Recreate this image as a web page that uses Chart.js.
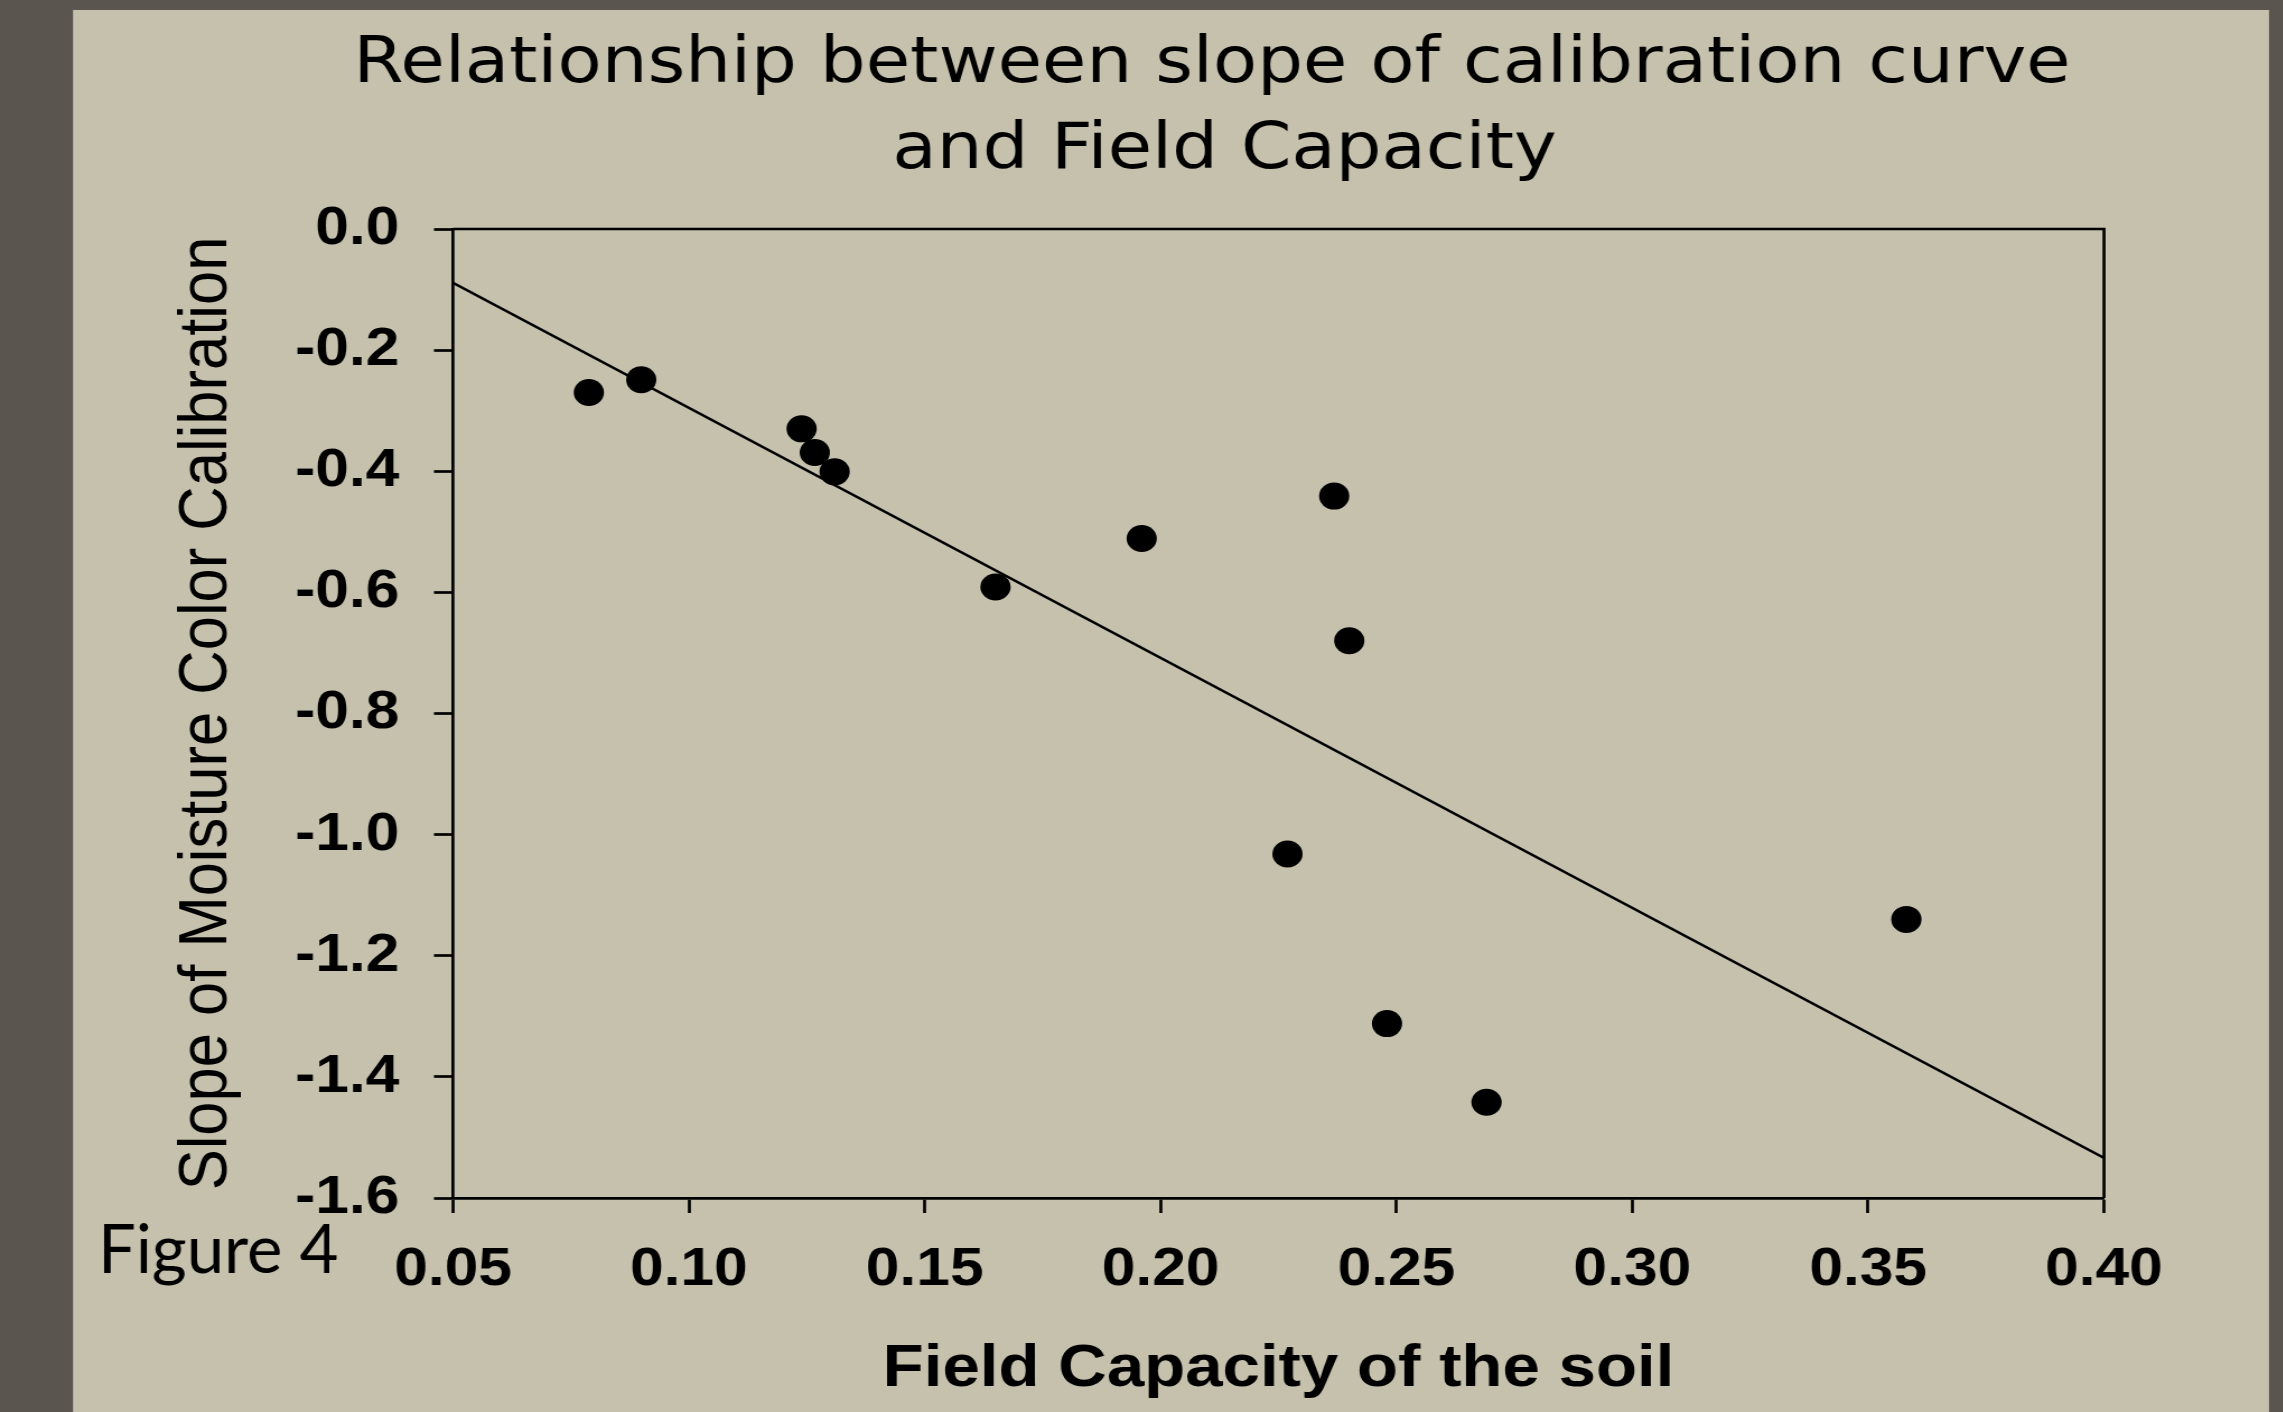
<!DOCTYPE html>
<html><head><meta charset="utf-8">
<script src="https://cdn.jsdelivr.net/npm/chart.js@4.4.1/dist/chart.umd.min.js"></script>
<style>
html,body{margin:0;padding:0;background:#5a554f;overflow:hidden;width:2283px;height:1412px;}
#wrap{position:absolute;left:0;top:0;transform:scaleX(1.12);transform-origin:0 0;}
canvas{display:block;}
</style></head><body>
<div id="wrap"><canvas id="c" width="2039" height="1412"></canvas></div>
<script>
// ---- data ----
const titleLines = ['Relationship between slope of calibration curve', 'and Field Capacity'];
const xAxisTitle = 'Field Capacity of the soil';
const yAxisTitle = 'Slope of Moisture Color Calibration';
const figureLabel = 'Figure 4';
const fieldCapacity    = [0.0788, 0.0899, 0.1239, 0.1267, 0.1309, 0.1650, 0.1960, 0.2368, 0.2400, 0.2269, 0.2480, 0.2691, 0.3581];
const calibrationSlope = [-0.270, -0.249, -0.330, -0.369, -0.401, -0.591, -0.511, -0.441, -0.680, -1.032, -1.312, -1.442, -1.140];
const fitX = [0.05, 0.40];
const fitY = [-0.089, -1.534];
const xTickValues = [0.05, 0.10, 0.15, 0.20, 0.25, 0.30, 0.35, 0.40];
const xTickLabels = ['0.05', '0.10', '0.15', '0.20', '0.25', '0.30', '0.35', '0.40'];
const yTickValues = [-1.6, -1.4, -1.2, -1.0, -0.8, -0.6, -0.4, -0.2, 0.0];
const yTickLabels = ['-1.6', '-1.4', '-1.2', '-1.0', '-0.8', '-0.6', '-0.4', '-0.2', '0.0'];

// ---- layout ----
const SX = 1.12;           // horizontal stretch of the picture
const CW = 2039, CH = 1412;

const decor = {
  id: 'decor',
  beforeDraw(chart) {
    const ctx = chart.ctx;
    ctx.save();
    ctx.fillStyle = '#5a554f';
    ctx.fillRect(0, 0, chart.width, chart.height);
    ctx.fillStyle = '#c6c1ad';
    ctx.fillRect(73 / SX, 10, (2269 - 73) / SX, CH - 10);
    ctx.restore();
  },
  afterDraw(chart) {
    const ctx = chart.ctx, a = chart.chartArea;
    ctx.save();
    ctx.strokeStyle = '#000';
    ctx.lineWidth = 2.7;
    ctx.beginPath();
    ctx.moveTo(a.left, a.top);
    ctx.lineTo(a.right, a.top);
    ctx.lineTo(a.right, a.bottom);
    ctx.stroke();
    ctx.fillStyle = '#000';
    ctx.font = '64.5px "DejaVu Sans"';
    ctx.textAlign = 'center';
    ctx.textBaseline = 'alphabetic';
    ctx.fillText(titleLines[0], 1212 / SX, 82);
    ctx.fillText(titleLines[1], 1224.5 / SX, 168);
    ctx.scale(1 / SX, 1);
    ctx.font = '67px Lato';
    ctx.textAlign = 'left';
    ctx.fillText(figureLabel, 98, 1273);
    ctx.restore();
  }
};

new Chart(document.getElementById('c'), {
  type: 'scatter',
  data: {
    datasets: [
      {
        data: fieldCapacity.map((x, i) => ({x: x, y: calibrationSlope[i]})),
        backgroundColor: '#000', borderColor: '#000', borderWidth: 0,
        pointRadius: 13.5, pointHoverRadius: 13.5, showLine: false
      },
      {
        data: fitX.map((x, i) => ({x: x, y: fitY[i]})),
        showLine: true, borderColor: '#000', borderWidth: 2.5,
        pointRadius: 0, pointHoverRadius: 0, fill: false
      }
    ]
  },
  options: {
    responsive: false,
    animation: false,
    events: [],
    layout: {padding: {left: 60, right: CW - 2104 / SX, top: 229, bottom: 0}},
    plugins: {legend: {display: false}, tooltip: {enabled: false}, title: {display: false}},
    scales: {
      x: {
        type: 'linear', position: 'bottom', min: 0.05, max: 0.40,
        afterBuildTicks: s => { s.ticks = xTickValues.map(v => ({value: v})); },
        afterFit: s => { s.height = CH - 1198; },
        ticks: {
          callback: v => xTickLabels[xTickValues.indexOf(v)],
          font: {family: 'Liberation Sans', size: 54, weight: 'bold'},
          color: '#000', padding: 25, maxRotation: 0, autoSkip: false
        },
        grid: {drawOnChartArea: false, drawTicks: true, tickLength: 15, tickWidth: 2.7, tickColor: '#000'},
        border: {display: true, color: '#000', width: 2.7},
        title: {display: true, text: xAxisTitle, color: '#000',
          font: {family: 'Liberation Sans', size: 60, weight: 'bold'}, padding: {top: 0, bottom: 7}}
      },
      y: {
        type: 'linear', position: 'left', min: -1.6, max: 0,
        afterBuildTicks: s => { s.ticks = yTickValues.map(v => ({value: v})); },
        afterFit: s => { s.width = 453 / SX - 60; },
        ticks: {
          callback: v => yTickLabels[yTickValues.indexOf(v)],
          font: {family: 'Liberation Sans', size: 54, weight: 'bold'},
          color: '#000', padding: 31
        },
        grid: {drawOnChartArea: false, drawTicks: true, tickLength: 17, tickWidth: 2.7, tickColor: '#000'},
        border: {display: true, color: '#000', width: 2.7},
        title: {display: true, text: yAxisTitle, color: '#000',
          font: {family: 'Liberation Sans', size: 61.5}, padding: {top: 88, bottom: 0}}
      }
    }
  },
  plugins: [decor]
});
</script>
</body></html>
